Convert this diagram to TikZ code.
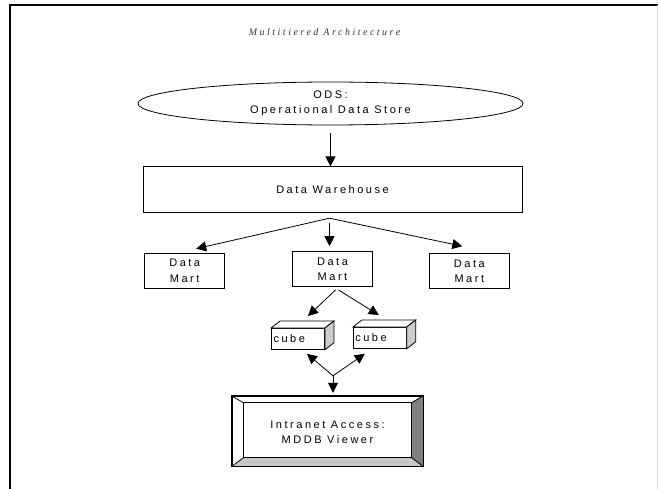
\documentclass[tikz,border=0pt]{standalone}
\usepackage{fontspec}
\newfontfamily\boxfont[LetterSpace=23]{Liberation Sans}
\newfontfamily\titlefont[LetterSpace=25]{Liberation Serif}
\usetikzlibrary{positioning}
\usetikzlibrary{calc}
\usetikzlibrary{arrows.meta}
\usetikzlibrary{shapes.geometric}

\begin{document}
\begin{tikzpicture}[x=1pt,y=-1pt,
    every node/.style={font=\boxfont\fontsize{11}{15.5}\selectfont, align=center, inner sep=0pt},
    box/.style={draw, line width=0.8pt, fill=white},
    martbox/.style={box, minimum width=80pt, minimum height=35pt},
    cubebox/.style={box, minimum width=53pt, minimum height=21pt, text width=49pt, align=left},
    arr/.style={-{Triangle[length=10pt,width=10pt]}, line width=0.8pt}]
        \useasboundingbox (0,0) rectangle (658,489);
        % Frame
        \draw[line width=2pt] (10,489) -- (10,5) -- (658,5);
        \draw[black!15] (657,5) -- (657,489);

        % Nodes
        \node[font=\titlefont\itshape\fontsize{10}{12}\selectfont, text=black!80] (title) at (324.5,32) {Multitiered Architecture};
        \node[ellipse, draw, line width=0.8pt, minimum width=385pt, minimum height=43pt] (ods) at (330.5,103.5) {ODS:\\Operational Data Store};
        \node[box, minimum width=379pt, minimum height=46pt, below=41pt of ods, xshift=2pt] (wh) {Data Warehouse};
        \node[martbox, below=38pt of wh] (dm2) {Data\\Mart};
        \node[martbox, left=67pt of dm2, yshift=-1.5pt] (dm1) {Data\\Mart};
        \node[martbox, right=56pt of dm2, yshift=-2pt] (dm3) {Data\\Mart};
        \node[cubebox, below=41pt of dm2, xshift=-34.5pt] (c1) {cube};
        \node[cubebox, right=28pt of c1, yshift=1pt] (c2) {cube};
        \node[box, minimum width=191pt, minimum height=70pt, below=46pt of c1, xshift=29.5pt] (vw) {};

        % Cube faces
        \foreach \c in {c1,c2} {
            \draw[line width=0.8pt, fill=white] (\c.north west) -- ++(9,-7) -- ($(\c.north east)+(9,-7)$) -- (\c.north east) -- cycle;
            \draw[line width=0.8pt, fill=black!20] (\c.north east) -- ++(9,-7) -- ($(\c.south east)+(9,-7)$) -- (\c.south east) -- cycle;
        }

        % Viewer bevel
        \coordinate (iNW) at ($(vw.north west)+(12,7)$);
        \coordinate (iNE) at ($(vw.north east)+(-12,7)$);
        \coordinate (iSE) at ($(vw.south east)+(-12,-9)$);
        \coordinate (iSW) at ($(vw.south west)+(12,-9)$);
        \fill[black!50] (vw.north east) -- (vw.south east) -- (iSE) -- (iNE) -- cycle;
        \fill[black!22] (vw.south west) -- (vw.south east) -- (iSE) -- (iSW) -- cycle;
        \draw[line width=0.8pt] (vw.north west) rectangle (vw.south east);
        \draw[line width=0.8pt] (iNW) rectangle (iSE);
        \draw[line width=0.8pt] (vw.north west) -- (iNW) (vw.north east) -- (iNE)
            (vw.south east) -- (iSE) (vw.south west) -- (iSW);
        \node (vwtext) at ([yshift=-1pt]vw) {Intranet Access:\\MDDB Viewer};

        % Edges
        \coordinate (fan) at ([xshift=-3pt,yshift=-5pt]wh.south);
        \coordinate (jn) at ([xshift=5.5pt,yshift=20pt]vw.north);
        \draw[arr, shorten <=8pt] (ods) -- (ods |- wh.north);
        \draw[arr] (fan) -- ([xshift=11.5pt,yshift=4pt]dm1.north);
        \draw[arr] ([yshift=-5pt]fan) -- (fan |- dm2.north) [shorten >=5pt];
        \draw[arr] (fan) -- ([xshift=-7pt,yshift=7pt]dm3.north);
        \draw[arr] ([xshift=3pt,yshift=-3pt]dm2.south) -- ([xshift=10pt,yshift=12pt]c1.north);
        \draw[arr] ([xshift=6pt,yshift=-3pt]dm2.south) -- ([xshift=-1pt,yshift=12pt]c2.north);
        \draw[arr] (jn) -- ([xshift=9pt,yshift=-4pt]c1.south);
        \draw[arr] (jn) -- ([xshift=-15pt,yshift=-5pt]c2.south);
        \draw[arr] (jn) -- ([yshift=3pt]jn |- vw.north);
\end{tikzpicture}
\end{document}
